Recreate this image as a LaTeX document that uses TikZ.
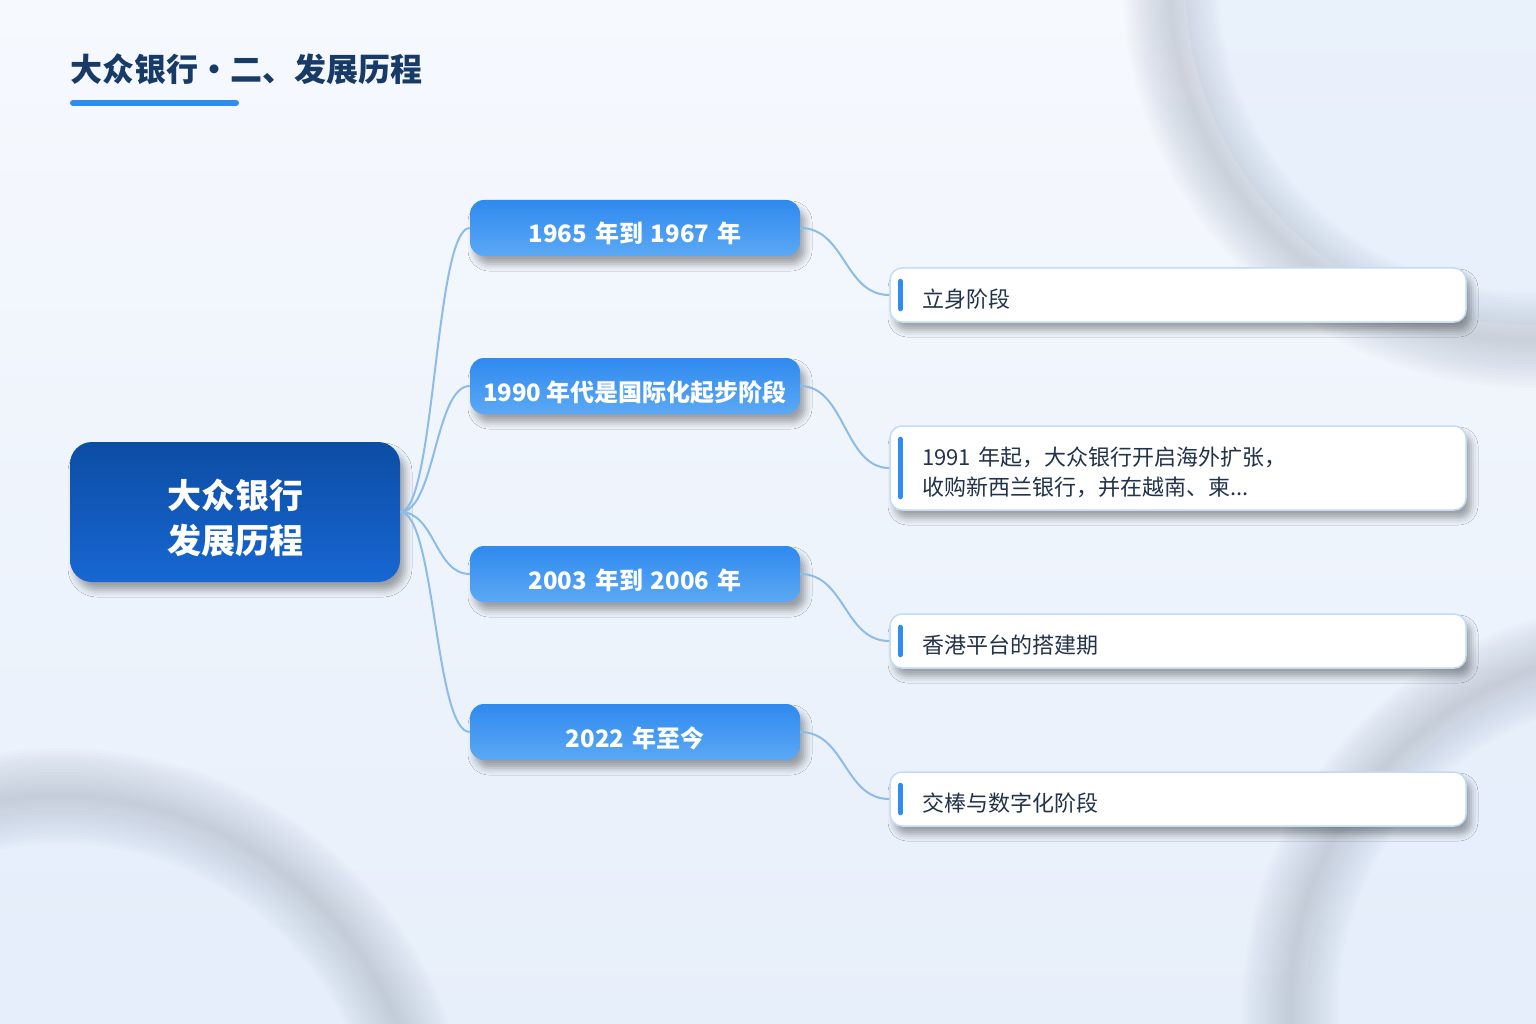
\documentclass[tikz,border=0pt]{standalone}
\usepackage{fontspec}
\setmainfont{Noto Sans CJK SC}
\usetikzlibrary{shadows.blur}
\definecolor{bgtop}{HTML}{F6F9FE}
\definecolor{bgbot}{HTML}{E7EFFA}
\definecolor{ringc}{HTML}{8893A4}
\definecolor{innerc}{HTML}{E4EEFB}
\definecolor{titlec}{HTML}{173A66}
\definecolor{accent}{HTML}{2F8CF0}
\definecolor{rootTop}{HTML}{0C4DA4}
\definecolor{rootBot}{HTML}{1767D2}
\definecolor{brTop}{HTML}{2F89EE}
\definecolor{brBot}{HTML}{5CA9F5}
\definecolor{leafBorder}{HTML}{C3DBF5}
\definecolor{leafText}{HTML}{22324A}
\definecolor{connc}{HTML}{8DBCE8}
\newcommand{\gapsp}{\hspace{0.33em}}
\tikzset{
  softshadow/.style={blur shadow={shadow xshift=5pt, shadow yshift=-8pt, shadow blur radius=7pt, shadow opacity=35}},
  rootbox/.style={rounded corners=22pt, minimum width=330pt, minimum height=140pt,
    top color=rootTop, bottom color=rootBot, text=white, align=center,
    font=\fontsize{34}{45}\selectfont\bfseries, text height=83pt, text depth=0pt, softshadow},
  branchbox/.style={rounded corners=14pt, minimum width=330pt, minimum height=56pt,
    top color=brTop, bottom color=brBot, text=white, align=center,
    font=\fontsize{24}{30}\selectfont\bfseries, text height=30pt, text depth=0pt, softshadow},
  leafbox/.style={draw=leafBorder, line width=1.5pt, fill=white, rounded corners=12pt,
    minimum width=576pt, text width=512pt, inner xsep=32pt, align=left,
    font=\fontsize{22}{30}\selectfont, text=leafText, text height=25pt, text depth=0pt, softshadow},
  accentbar/.style={draw=accent, line width=5pt, line cap=round},
  conn/.style={draw=connc, line width=2pt},
  ring/.style={draw=ringc}
}
\begin{document}
\begin{tikzpicture}[x=1pt,y=-1pt]
\useasboundingbox (0,0) rectangle (1536,1024);
\shade[top color=bgtop, bottom color=bgbot] (0,0) rectangle (1536,1024);
\begin{scope}
  \clip (0,0) rectangle (1536,1024);
  \fill[innerc, opacity=0.7] (1530,-20) circle (345);
  \fill[innerc, opacity=0.5] (60,1160) circle (350);
  \fill[innerc, opacity=0.5] (1650,1010) circle (345);
  \foreach \w in {96,90,...,6}{
    \draw[ring, line width=\w pt, opacity=0.024] (1530,-20) circle (360);
    \draw[ring, line width=\w pt, opacity=0.024] (60,1160) circle (364);
    \draw[ring, line width=\w pt, opacity=0.024] (1650,1010) circle (360);
  }
\end{scope}
% title
\node[anchor=base west, inner sep=0pt, text=titlec, font=\fontsize{32}{36}\selectfont\bfseries] (title) at (70,82) {大众银行・二、发展历程};
\draw[accent, line width=6pt, line cap=round] (73,103) -- (236,103);
% root
\node[rootbox] (root) at (235,512) {大众银行\\发展历程};
% branches
\node[branchbox] (b1) at (635,228) {1965\gapsp 年到\gapsp 1967\gapsp 年};
\node[branchbox] (b2) at (635,386) {1990 年代是国际化起步阶段};
\node[branchbox] (b3) at (635,574) {2003\gapsp 年到\gapsp 2006\gapsp 年};
\node[branchbox] (b4) at (635,732) {2022\gapsp 年至今};
% leaves
\node[leafbox, minimum height=54pt] (l1) at (1178,295) {立身阶段};
\node[leafbox, minimum height=84pt, text height=25pt, text depth=30pt] (l2) at (1178,468) {1991 年起，大众银行开启海外扩张，\\收购新西兰银行，并在越南、柬...};
\node[leafbox, minimum height=54pt] (l3) at (1178,641) {香港平台的搭建期};
\node[leafbox, minimum height=54pt] (l4) at (1178,799) {交棒与数字化阶段};
\foreach \n in {l1,l2,l3,l4}{
  \draw[accentbar] ([xshift=11pt,yshift=-14pt]\n.north west) -- ([xshift=11pt,yshift=14pt]\n.south west);
}
% connectors
\foreach \b in {b1,b2,b3,b4}{
  \draw[conn] (root.east) .. controls +(35,0) and +(-35,0) .. (\b.west);
}
\draw[conn] (b1.east) .. controls +(45,0) and +(-45,0) .. (l1.west);
\draw[conn] (b2.east) .. controls +(45,0) and +(-45,0) .. (l2.west);
\draw[conn] (b3.east) .. controls +(45,0) and +(-45,0) .. (l3.west);
\draw[conn] (b4.east) .. controls +(45,0) and +(-45,0) .. (l4.west);
\end{tikzpicture}
\end{document}
